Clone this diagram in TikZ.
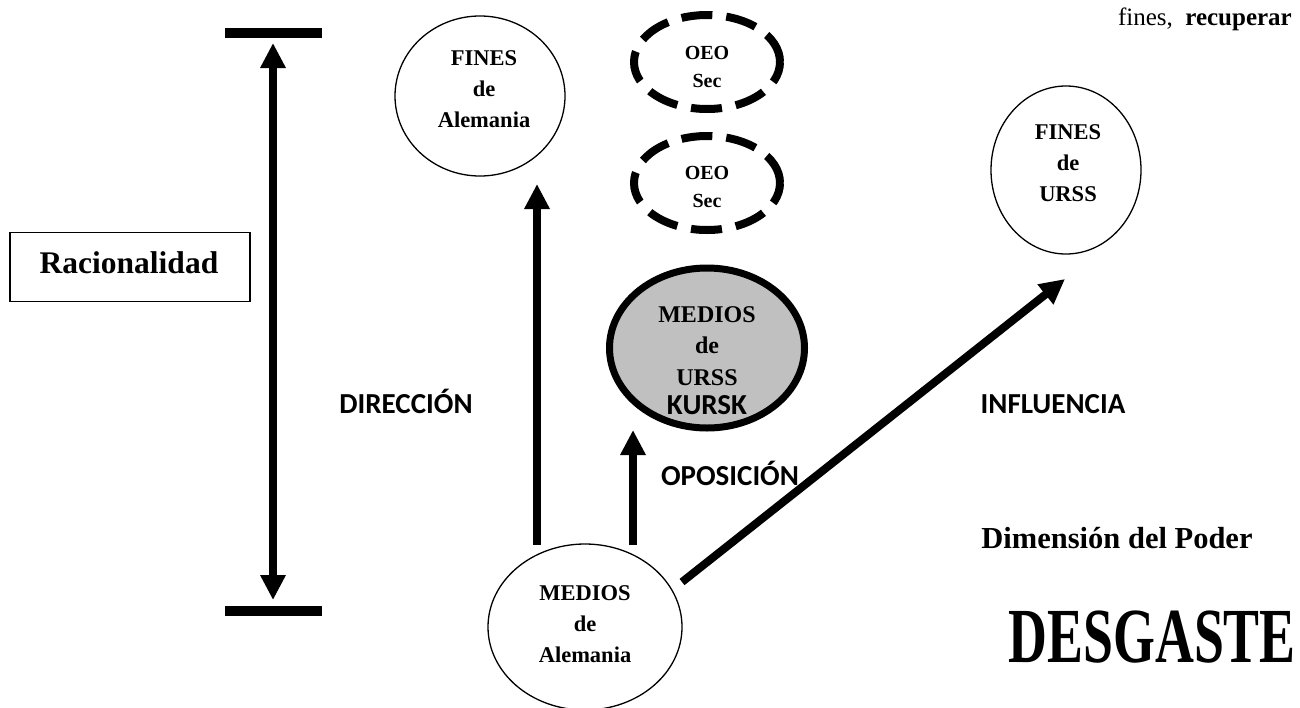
\documentclass[tikz,border=0pt]{standalone}
\usepackage{fontspec}
\setmainfont{Liberation Serif}
\newfontfamily\calibrifont{Carlito}
\usetikzlibrary{shapes.geometric,arrows.meta}
\definecolor{mygray}{RGB}{192,192,192}
\begin{document}
\begin{tikzpicture}[x=1pt,y=-1pt,
  thinell/.style={ellipse,draw,line width=1.3pt,inner sep=0pt},
  dashell/.style={ellipse,draw,line width=8pt,dash pattern=on 31pt off 14pt,minimum width=146pt,minimum height=94pt,inner sep=0pt},
  elltext/.style={anchor=base,align=center,inner sep=0pt,font=\rmfamily\bfseries\fontsize{22.5}{31}\selectfont},
  oeotext/.style={anchor=base,align=center,inner sep=0pt,font=\rmfamily\bfseries\fontsize{20}{28}\selectfont},
  bigarrow/.style={line width=8pt,-{Triangle[length=25pt,width=24pt]}},
  bar/.style={line width=10pt},
  lbl/.style={anchor=base,inner sep=0pt,font=\calibrifont\bfseries\fontsize{29}{34}\selectfont}
]
\useasboundingbox (0,0) rectangle (1300,707);

% bars and double arrow
\coordinate (tbl) at (225,33);
\coordinate (tbr) at (322,33);
\coordinate (bbl) at (225,611);
\coordinate (bbr) at (322,611);
\draw[bar] (tbl) -- (tbr);
\draw[bar] (bbl) -- (bbr);
\coordinate (vt) at (273,43);
\coordinate (vb) at (273,600);
\draw[line width=8pt,{Triangle[length=25pt,width=24pt]}-{Triangle[length=25pt,width=24pt]}] (vt) -- (vb);

% Racionalidad
\node[draw,line width=1.3pt,minimum width=240pt,minimum height=69pt,inner sep=0pt] (racbox) at (130,267) {};
\node[anchor=base,inner sep=0pt,font=\bfseries\fontsize{31.5}{36}\selectfont] (ractext) at (129,273) {Racionalidad};

% ellipses
\node[thinell,minimum width=170pt,minimum height=160pt] (fa) at (480,96) {};
\node[elltext] (fatext) at (484,127) {FINES\\de\\Alemania};

\node[dashell] (oeo1) at (707,62) {};
\node[oeotext] (oeo1text) at (707,87) {OEO\\Sec};
\node[dashell] (oeo2) at (707,183) {};
\node[oeotext] (oeo2text) at (707,207) {OEO\\Sec};

\node[thinell,minimum width=150pt,minimum height=168pt] (fu) at (1066,170) {};
\node[elltext] (futext) at (1068,201) {FINES\\de\\URSS};

\node[ellipse,draw,line width=7pt,fill=mygray,minimum width=195pt,minimum height=160pt,inner sep=0pt] (mu) at (707,348) {};
\node[anchor=base,align=center,inner sep=0pt,font=\rmfamily\bfseries\fontsize{24}{31.5}\selectfont] (mutext) at (707,385) {MEDIOS\\de\\URSS};
\node[lbl] (kursk) at (707,414) {KURSK};

\node[thinell,minimum width=194pt,minimum height=166pt] (ma) at (585,627) {};
\node[elltext] (matext) at (585,662) {MEDIOS\\de\\Alemania};

% arrows
\coordinate (a1s) at (537,545);
\coordinate (a1e) at (537,184);
\draw[bigarrow] (a1s) -- (a1e);
\coordinate (a2s) at (633,545);
\coordinate (a2e) at (633,430);
\draw[bigarrow] (a2s) -- (a2e);
\coordinate (a3s) at (682,582);
\coordinate (a3e) at (1065,279);
\draw[bigarrow] (a3s) -- (a3e);

% labels
\node[lbl] (dir) at (406,413) {DIRECCIÓN};
\node[lbl] (opo) at (730,485) {OPOSICIÓN};
\node[lbl] (inf) at (1053,413) {INFLUENCIA};

\node[anchor=base,inner sep=0pt,font=\bfseries\fontsize{30.5}{36}\selectfont] (dim) at (1117,548) {Dimensión del Poder};
\node[anchor=base east,inner sep=0pt,font=\bfseries\fontsize{78}{80}\selectfont] (desg) at (1296,662) {\scalebox{0.69}[1]{DESGASTE}};
\node[anchor=base east,inner sep=0pt,font=\fontsize{25}{30}\selectfont] (fines) at (1292,25) {fines,\hspace{0.5em}\textbf{recuperar}};
\end{tikzpicture}
\end{document}
